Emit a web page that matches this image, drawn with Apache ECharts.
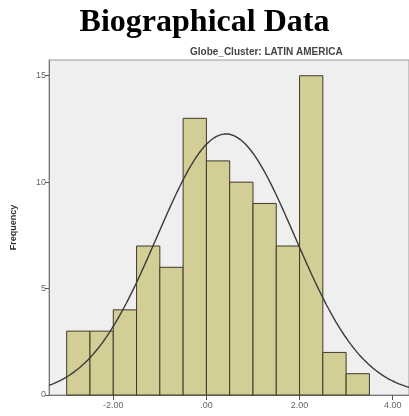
<!DOCTYPE html>
<html>
<head>
<meta charset="utf-8">
<script src="https://cdn.jsdelivr.net/npm/echarts@6/dist/echarts.min.js"></script>
<style>
  html, body { margin: 0; padding: 0; background: #ffffff; }
  #chart { width: 409px; height: 416px; }
</style>
</head>
<body>
<div id="chart"></div>
<script>
// Histogram bins (left edge, right edge) and frequencies
const binStarts = [-3.0, -2.5, -2.0, -1.5, -1.0, -0.5, 0.0, 0.5, 1.0, 1.5, 2.0, 2.5, 3.0];
const binEnds   = [-2.5, -2.0, -1.5, -1.0, -0.5, 0.0, 0.5, 1.0, 1.5, 2.0, 2.5, 3.0, 3.5];
const frequencies = [3, 3, 4, 7, 6, 13, 11, 10, 9, 7, 15, 2, 1];

// Normal curve parameters
const curveMean = 0.42;
const curveStdDev = 1.48;
const sampleSize = 91;
const binWidth = 0.5;

// Axis ticks
const xTickValues = [-2, 0, 2, 4];
const xTickLabels = ['-2.00', '.00', '2.00', '4.00'];
const yTickValues = [0, 5, 10, 15];

// Fitted normal curve, scaled to counts per bin
const curvePoints = [];
for (let x = -3.38; x <= 4.36; x += 0.02) {
  const z = (x - curveMean) / curveStdDev;
  const y = sampleSize * binWidth * Math.exp(-0.5 * z * z) / (curveStdDev * Math.sqrt(2 * Math.PI));
  curvePoints.push([x, y]);
}

const histData = frequencies.map((f, i) => [binStarts[i], binEnds[i], f]);

const chart = echarts.init(document.getElementById('chart'), null, { renderer: 'canvas' });
chart.setOption({
  backgroundColor: '#ffffff',
  animation: false,
  title: [
    {
      text: 'Biographical Data',
      left: 'center',
      top: 2,
      textStyle: { fontFamily: 'Liberation Serif', fontWeight: 'bold', fontSize: 32, color: '#000000' }
    },
    {
      text: 'Globe_Cluster: LATIN AMERICA',
      left: 185,
      top: 42,
      textStyle: { fontFamily: 'Liberation Sans', fontWeight: 'bold', fontSize: 10, color: '#444444' }
    }
  ],
  grid: { left: 49, top: 60, right: 0, bottom: 21, show: true, backgroundColor: '#efefef', borderColor: '#9a9a9a', borderWidth: 1 },
  xAxis: {
    type: 'value',
    min: -3.38,
    max: 4.35,
    splitLine: { show: false },
    axisLine: { show: true, onZero: false, lineStyle: { color: '#777777', width: 1 } },
    axisTick: { show: true, length: 5, customValues: xTickValues, lineStyle: { color: '#555555' } },
    axisLabel: {
      customValues: xTickValues,
      fontSize: 9, color: '#666666', fontFamily: 'Liberation Sans', margin: 6,
      formatter: v => xTickLabels[xTickValues.indexOf(Math.round(v))] || ''
    }
  },
  yAxis: {
    type: 'value',
    min: 0,
    max: 15.74,
    name: 'Frequency',
    nameLocation: 'middle',
    nameGap: 31,
    nameRotate: 90,
    nameTextStyle: { fontFamily: 'Liberation Sans', fontWeight: 'bold', fontSize: 9, color: '#333333' },
    splitLine: { show: false },
    axisLine: { show: true, onZero: false, lineStyle: { color: '#777777', width: 1 } },
    axisTick: { show: true, length: 4, customValues: yTickValues, lineStyle: { color: '#555555' } },
    axisLabel: { customValues: yTickValues, fontSize: 9, color: '#666666', fontFamily: 'Liberation Sans', margin: 3 }
  },
  series: [
    {
      type: 'custom',
      data: histData,
      encode: { x: [0, 1], y: 2 },
      renderItem: (params, api) => {
        const p0 = api.coord([api.value(0), 0]);
        const p1 = api.coord([api.value(1), api.value(2)]);
        return {
          type: 'rect',
          shape: { x: p0[0], y: p1[1], width: p1[0] - p0[0], height: p0[1] - p1[1] },
          style: { fill: '#d3cd96', stroke: '#3d3b28', lineWidth: 1 }
        };
      },
      z: 2
    },
    {
      type: 'line',
      data: curvePoints,
      showSymbol: false,
      smooth: false,
      lineStyle: { color: '#3a3a3a', width: 1.4 },
      z: 3
    }
  ]
});
</script>
</body>
</html>
